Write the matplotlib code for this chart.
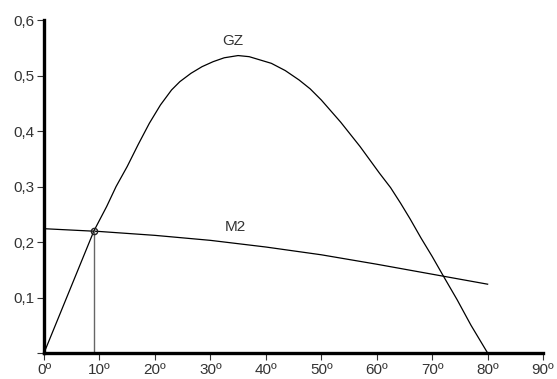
import matplotlib.pyplot as plt

# angulos de banda (graus) e valores
gz_ang = [0, 4.5, 9, 11.3, 13, 15, 17, 19, 21, 23, 24.5, 26.5, 28.5, 30.5,
          32.5, 35, 37, 39, 41, 43.5, 46, 48, 50, 53.5, 57, 60.5, 62.5, 64.3,
          66, 68, 70, 72, 74.5, 77, 80]
gz_val = [0, 0.11, 0.22, 0.264, 0.30, 0.336, 0.376, 0.414, 0.447, 0.474,
          0.489, 0.504, 0.516, 0.525, 0.532, 0.536, 0.534, 0.528, 0.522,
          0.509, 0.492, 0.476, 0.456, 0.416, 0.372, 0.324, 0.298, 0.27,
          0.242, 0.207, 0.174, 0.139, 0.096, 0.05, 0.0]

m2_ang = [0, 10, 20, 30, 40, 50, 60, 70, 80]
m2_val = [0.224, 0.219, 0.212, 0.203, 0.191, 0.177, 0.160, 0.142, 0.124]

# ponto de equilibrio
eq_ang = 9
eq_val = 0.22

xticks = [0, 10, 20, 30, 40, 50, 60, 70, 80, 90]
yticks = [0, 0.1, 0.2, 0.3, 0.4, 0.5, 0.6]

plt.rcParams['font.family'] = ['Liberation Sans', 'DejaVu Sans']

fig = plt.figure(figsize=(5.57, 3.79), dpi=100)
ax = fig.add_axes([0.079, 0.0686, 0.896, 0.8785])

ax.plot(gz_ang, gz_val, color='black', lw=0.9)
ax.plot(m2_ang, m2_val, color='black', lw=0.9)
ax.plot([eq_ang, eq_ang], [0, eq_val], color='#666666', lw=1.0)
ax.plot(eq_ang, eq_val, 'o', ms=4.5, mfc='none', mec='#222222', mew=1.0)

ax.text(34, 0.55, 'GZ', fontsize=11, color='#333333', ha='center', va='bottom')
ax.text(34.5, 0.214, 'M2', fontsize=11, color='#333333', ha='center', va='bottom')

ax.set_xlim(0, 90)
ax.set_ylim(0, 0.6)
ax.set_xticks(xticks)
ax.set_xticklabels([f'{t}º' for t in xticks])
ax.set_yticks(yticks)
ax.set_yticklabels([''] + [f'{t:.1f}'.replace('.', ',') for t in yticks[1:]])

for s in ['top', 'right']:
    ax.spines[s].set_visible(False)
for s in ['left', 'bottom']:
    ax.spines[s].set_linewidth(2.4)
ax.tick_params(length=5, width=0.8, color='#333333', labelcolor='#333333',
               labelsize=11, pad=2)

fig.savefig('out.png', dpi=100)
